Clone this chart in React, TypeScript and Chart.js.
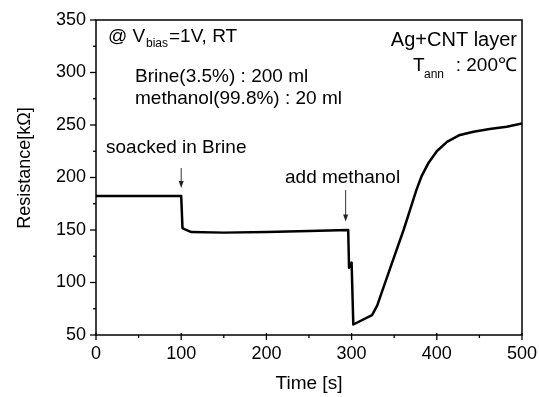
import React, { useEffect, useRef } from "react";
import { Chart, registerables } from "chart.js";

Chart.register(...registerables);

const FONT = "'Liberation Sans', Arial, Helvetica, sans-serif";

// Time [s]
const times = [0, 100, 101.5, 103, 112, 150, 200, 250, 296, 297, 300, 302, 324, 330, 345, 361, 368.5, 376, 382, 390, 400, 412, 426, 443, 462, 482, 500];
// Resistance [kΩ]
const resistance = [182.5, 182.5, 152, 151, 148, 147.5, 148, 149, 150, 114, 119, 60, 69, 78, 113, 150, 169, 188, 201, 213.5, 225, 234, 240.2, 243.6, 246.2, 248.4, 251.5];

const xTicks = [0, 100, 200, 300, 400, 500];
const yTicks = [50, 100, 150, 200, 250, 300, 350];
const xMinorTicks = [50, 150, 250, 350, 450];
const yMinorTicks = [75, 125, 175, 225, 275, 325];

// arrows: [x, yStart, yEnd] in data units
const arrows = [
  [100, 209, 190],
  [293, 188, 158],
];

const decor = {
  id: "decor",
  afterDraw(chart: any) {
    const { ctx, chartArea: a, scales } = chart;
    const x = scales.x;
    const y = scales.y;
    ctx.save();
    ctx.strokeStyle = "#000";
    ctx.fillStyle = "#000";
    ctx.lineWidth = 1.5;
    ctx.strokeRect(a.left, a.top, a.right - a.left, a.bottom - a.top);

    ctx.lineWidth = 1.3;
    const seg = (x1: number, y1: number, x2: number, y2: number) => {
      ctx.beginPath();
      ctx.moveTo(x1, y1);
      ctx.lineTo(x2, y2);
      ctx.stroke();
    };
    xTicks.forEach((v) => {
      const p = x.getPixelForValue(v);
      seg(p, a.bottom - 2, p, a.bottom + 5);
    });
    xMinorTicks.forEach((v) => {
      const p = x.getPixelForValue(v);
      seg(p, a.bottom, p, a.bottom + 3);
    });
    yTicks.forEach((v) => {
      const p = y.getPixelForValue(v);
      seg(a.left - 6, p, a.left, p);
    });
    yMinorTicks.forEach((v) => {
      const p = y.getPixelForValue(v);
      seg(a.left - 3, p, a.left, p);
    });

    // arrows
    ctx.strokeStyle = "#333";
    ctx.fillStyle = "#222";
    ctx.lineWidth = 1;
    arrows.forEach(([xv, y1, y2]) => {
      const px = x.getPixelForValue(xv);
      const p1 = y.getPixelForValue(y1);
      const p2 = y.getPixelForValue(y2);
      seg(px, p1, px, p2 - 6);
      ctx.beginPath();
      ctx.moveTo(px - 2.5, p2 - 7);
      ctx.lineTo(px + 2.5, p2 - 7);
      ctx.lineTo(px, p2);
      ctx.closePath();
      ctx.fill();
    });

    // texts
    ctx.fillStyle = "#000";
    ctx.textBaseline = "alphabetic";
    ctx.textAlign = "left";
    const big = `19px ${FONT}`;
    const sub = `12px ${FONT}`;
    ctx.font = big;
    ctx.fillText("@ V", 108, 42);
    ctx.font = sub;
    ctx.fillText("bias", 146, 47);
    ctx.font = big;
    ctx.fillText("=1V, RT", 169, 42);

    ctx.font = big;
    ctx.fillText("Brine(3.5%) : 200 ml", 135, 82);
    ctx.fillText("methanol(99.8%) : 20 ml", 135, 104);

    ctx.font = `20px ${FONT}`;
    ctx.textAlign = "right";
    ctx.fillText("Ag+CNT layer", 517, 46);
    ctx.textAlign = "left";
    ctx.font = big;
    ctx.fillText("T", 413, 71);
    ctx.font = sub;
    ctx.fillText("ann", 424, 78);
    ctx.font = big;
    ctx.textAlign = "right";
    ctx.fillText(": 200\u2103", 517, 71);
    ctx.textAlign = "left";

    ctx.fillText("soacked in Brine", 106, 153);
    ctx.fillText("add methanol", 285, 183);

    // y title
    ctx.save();
    ctx.translate(30, 168);
    ctx.rotate(-Math.PI / 2);
    ctx.textAlign = "center";
    ctx.font = `18px ${FONT}`;
    ctx.fillText("Resistance[k\u03A9]", 0, 0);
    ctx.restore();

    ctx.restore();
  },
};

export default function App() {
  const ref = useRef<HTMLCanvasElement | null>(null);
  useEffect(() => {
    if (!ref.current) return;
    const chart = new Chart(ref.current, {
      type: "line",
      data: {
        datasets: [
          {
            data: times.map((t, i) => ({ x: t, y: resistance[i] })),
            borderColor: "#000",
            borderWidth: 2.5,
            pointRadius: 0,
            fill: false,
            tension: 0,
            borderJoinStyle: "round",
          },
        ],
      },
      options: {
        responsive: false,
        animation: false,
        layout: { padding: { top: 20, right: 17, left: 0, bottom: 0 } },
        plugins: { legend: { display: false }, tooltip: { enabled: false } },
        scales: {
          x: {
            type: "linear",
            min: 0,
            max: 500,
            afterFit: (s: any) => {
              s.height = 62;
              s.paddingLeft = 0;
              s.paddingRight = 0;
            },
            grid: { display: false, drawTicks: false },
            border: { display: false },
            ticks: {
              stepSize: 100,
              padding: 8,
              color: "#000",
              maxRotation: 0,
              font: { family: FONT, size: 18 },
            },
            title: {
              display: true,
              text: "Time [s]",
              color: "#000",
              font: { family: FONT, size: 19 },
              padding: { top: 0, bottom: 2 },
            },
          },
          y: {
            type: "linear",
            min: 50,
            max: 350,
            afterFit: (s: any) => {
              s.width = 96;
              s.paddingTop = 0;
              s.paddingBottom = 0;
            },
            grid: { display: false, drawTicks: false },
            border: { display: false },
            ticks: {
              stepSize: 50,
              padding: 10,
              color: "#000",
              font: { family: FONT, size: 18 },
            },
          },
        },
      },
      plugins: [decor],
    });
    return () => chart.destroy();
  }, []);
  return (
    <div style={{ position: "fixed", left: 0, top: 0, width: 539, height: 397, background: "#fff" }}>
      <canvas ref={ref} width={539} height={397} />
    </div>
  );
}
